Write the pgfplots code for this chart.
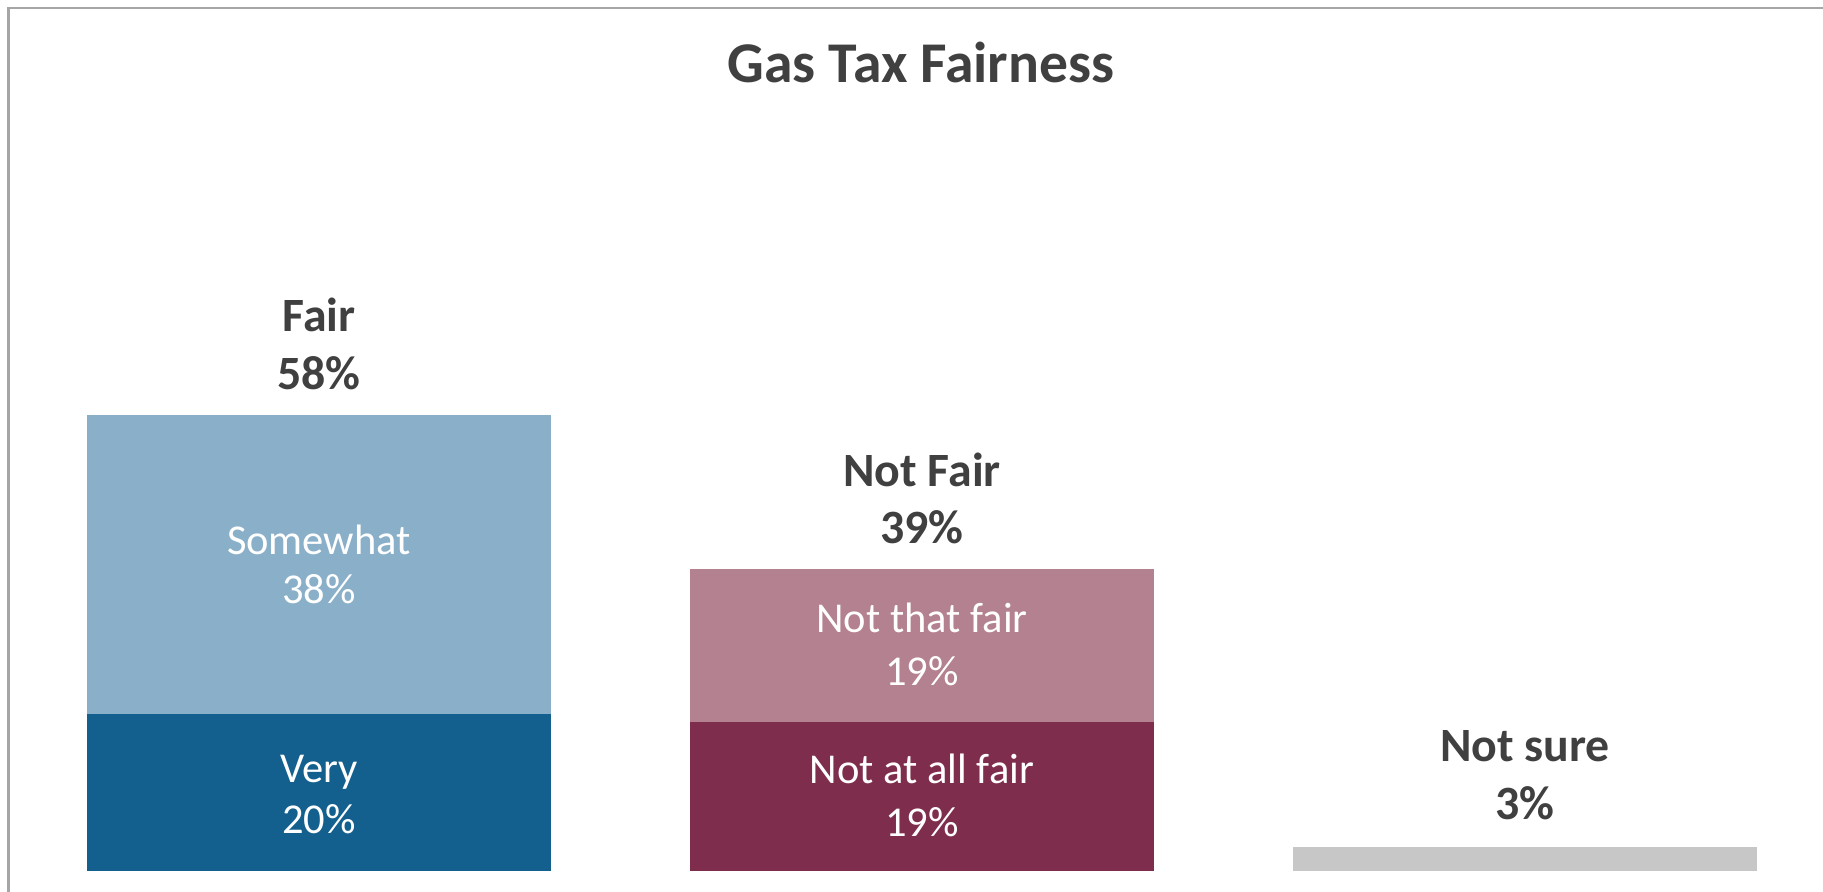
\documentclass[border=0pt]{standalone}
\usepackage{fontspec}
\setmainfont{Carlito}
\usepackage{pgfplots}
\pgfplotsset{compat=1.18}
\definecolor{vblue}{HTML}{13608F}
\definecolor{lblue}{HTML}{8AAFC9}
\definecolor{maroon}{HTML}{7F2D4C}
\definecolor{mauve}{HTML}{B3818F}
\definecolor{nsgray}{HTML}{C7C7C7}
\definecolor{txtgray}{HTML}{404040}
\definecolor{framegray}{HTML}{A6A6A6}
\begin{document}
\begin{tikzpicture}
\useasboundingbox (0,0) rectangle (182.3mm,89.2mm);
\fill[white] (0,0) rectangle (182.3mm,89.2mm);
\begin{axis}[
  at={(0.9mm,2.1mm)}, anchor=south west,
  scale only axis, width=181.4mm, height=86.3mm,
  xmin=-0.514, xmax=2.494, ymin=0, ymax=109.8,
  hide axis, ybar stacked, bar width=46.4mm, clip=false,
]
\addplot[fill=vblue, draw=none] coordinates {(0,20) (1,0) (2,0)};
\addplot[fill=lblue, draw=none] coordinates {(0,38) (1,0) (2,0)};
\addplot[fill=maroon, draw=none] coordinates {(0,0) (1,19) (2,0)};
\addplot[fill=mauve, draw=none] coordinates {(0,0) (1,19.4) (2,0)};
\addplot[fill=nsgray, draw=none] coordinates {(0,0) (1,0) (2,3)};
\coordinate (b1) at (axis cs:0,68.58);
\coordinate (b2) at (axis cs:0,61.20);
\coordinate (b3) at (axis cs:1,48.98);
\coordinate (b4) at (axis cs:1,41.73);
\coordinate (b5) at (axis cs:2,13.87);
\coordinate (b6) at (axis cs:2,6.49);
\coordinate (s1) at (axis cs:0,40.33);
\coordinate (s2) at (axis cs:0,33.97);
\coordinate (s3) at (axis cs:0,11.32);
\coordinate (s4) at (axis cs:0,4.83);
\coordinate (s5) at (axis cs:1,30.28);
\coordinate (s6) at (axis cs:1,23.54);
\coordinate (s7) at (axis cs:1,11.07);
\coordinate (s8) at (axis cs:1,4.45);
\end{axis}
\tikzset{big/.style={anchor=base, text=txtgray, font=\fontsize{13.6}{16}\selectfont\bfseries},
         small/.style={anchor=base, text=white, font=\fontsize{12.1}{14}\selectfont}}
\node[big] at (b1) {Fair};
\node[big] at (b2) {58\%};
\node[big] at (b3) {Not Fair};
\node[big] at (b4) {39\%};
\node[big] at (b5) {Not sure};
\node[big] at (b6) {3\%};
\node[small] at (s1) {Somewhat};
\node[small] at (s2) {38\%};
\node[small] at (s3) {Very};
\node[small] at (s4) {20\%};
\node[small] at (s5) {Not that fair};
\node[small] at (s6) {19\%};
\node[small] at (s7) {Not at all fair};
\node[small] at (s8) {19\%};
\draw[framegray, line width=0.25mm] (0.85mm,0) -- (0.85mm,88.4mm) -- (182.3mm,88.4mm);
\node[anchor=base, text=txtgray, font=\fontsize{16.4}{20}\selectfont\bfseries] at (92.1mm,80.9mm) {Gas Tax Fairness};
\end{tikzpicture}
\end{document}
